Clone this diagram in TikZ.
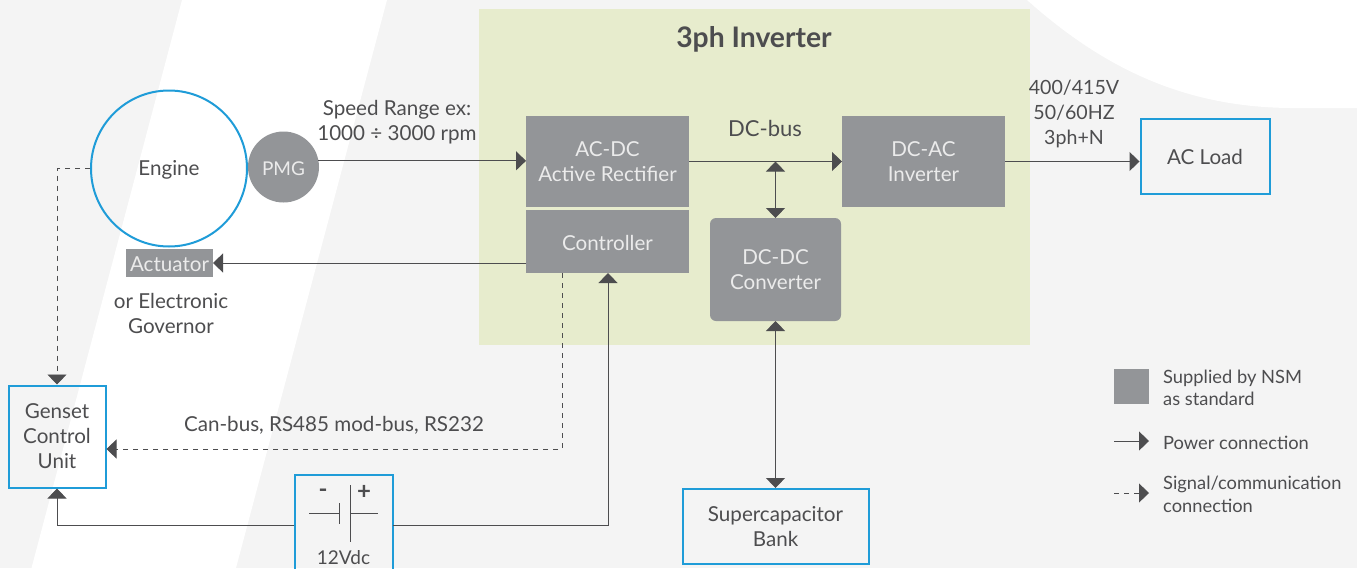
\documentclass[tikz,border=0pt]{standalone}
\usepackage{fontspec}
\setmainfont{Lato}
\usetikzlibrary{arrows.meta}
\definecolor{bggray}{HTML}{F4F4F4}
\definecolor{panelgreen}{HTML}{E7ECCD}
\definecolor{nsmgray}{HTML}{939598}
\definecolor{inkgray}{HTML}{4D4D4F}
\definecolor{boxblue}{HTML}{1F9CD8}
\def\boxfont{\fontsize{20.6}{25}\selectfont}
\tikzset{
	lifted/.style={execute at begin node={\rule{0pt}{25pt}}},
	liftone/.style={execute at begin node={\rule{0pt}{18pt}}},
	txt/.style={text=inkgray,align=center,font=\boxfont,inner sep=0pt},
	legendtxt/.style={text=inkgray,align=left,anchor=west,font=\fontsize{18.3}{22.5}\selectfont,inner sep=0pt},
	nsmbox/.style={fill=nsmgray,text=white!92!black,align=center,font=\boxfont,inner sep=0pt,outer sep=0pt},
	bluebox/.style={draw=boxblue,line width=2pt,text=inkgray,align=center,font=\boxfont,inner sep=0pt,outer sep=1pt},
	powerline/.style={draw=inkgray,line width=1pt,-{Triangle[length=10pt,width=19pt]}},
	powerboth/.style={draw=inkgray,line width=1pt,{Triangle[length=10pt,width=19pt]}-{Triangle[length=10pt,width=19pt]}},
	signalline/.style={powerline,line width=0.9pt,dash pattern=on 5pt off 5pt},
	battline/.style={draw=inkgray,line width=1pt}
}
\begin{document}
\begin{tikzpicture}[x=1pt,y=-1pt]
	%%%%% BACKGROUND %%%%%
	\useasboundingbox (0,0) rectangle (1357,568);
	\fill[bggray] (0,0) rectangle (1357,568);
	\fill[white] (182,0) -- (387,0) -- (236,568) -- (31.5,568) -- cycle;
	\fill[white] (1027,0) .. controls (1100,65) and (1180,107) .. (1290,108) -- (1357,108) -- (1357,0) -- cycle;
	\fill[panelgreen] (479,9) rectangle (1030,345);
	\node[txt,font=\fontsize{28.3}{30}\selectfont\bfseries] (title) at (754,39) {3ph Inverter};

	%%%%% BLOCKS %%%%%
	\node[liftone,circle,draw=boxblue,line width=2pt,minimum size=156pt,inner sep=0pt,outer sep=1pt,text=inkgray,font=\boxfont] (engine) at (169,168.5) {Engine};
	\node[liftone,circle,fill=nsmgray,minimum size=71pt,inner sep=0pt,outer sep=0pt,text=white!92!black,font=\fontsize{19}{25}\selectfont] (pmg) at (283.5,167) {PMG};
	\node[nsmbox,liftone,minimum width=87pt,minimum height=28pt] (actuator) at (169.5,263) {Actuator};
	\node[nsmbox,lifted,minimum width=163pt,minimum height=91pt] (acdc) at (607.5,161.5) {AC-DC\\Active Rectifier};
	\node[nsmbox,liftone,minimum width=163pt,minimum height=63pt] (controller) at (607.5,241.5) {Controller};
	\node[nsmbox,lifted,minimum width=163pt,minimum height=91pt] (dcac) at (923.5,161.5) {DC-AC\\Inverter};
	\node[nsmbox,lifted,rounded corners=6pt,minimum width=131pt,minimum height=103pt] (dcdc) at (775.5,269.5) {DC-DC\\Converter};
	\node[bluebox,liftone,minimum width=129pt,minimum height=75pt] (acload) at (1205,156) {AC Load};
	\node[bluebox,lifted,minimum width=97pt,minimum height=102pt] (genset) at (57,436.5) {Genset\\Control\\Unit};
	\node[bluebox,lifted,minimum width=186pt,minimum height=75pt] (supercap) at (775.5,526.5) {Supercapacitor\\Bank};
	\node[bluebox,minimum width=98pt,minimum height=112pt] (battery) at (343.5,531) {};

	%%%%% LABELS %%%%%
	\node[txt] (speed) at (397,122.5) {Speed Range ex:\\1000 ÷ 3000 rpm};
	\node[txt,font=\fontsize{22}{25}\selectfont] (dcbuslabel) at (765,128.5) {DC-bus};
	\node[txt,font=\fontsize{19.6}{25}\selectfont] (outlabel) at (1074,114) {400/415V\\50/60HZ\\3ph+N};
	\node[txt] (governor) at (171,313.5) {or Electronic\\Governor};
	\node[txt] (canbus) at (334,425) {Can-bus, RS485 mod-bus, RS232};
	\node[txt,font=\fontsize{19}{25}\selectfont] (vdc) at (343.5,558) {12Vdc};

	%%%%% BATTERY SYMBOL %%%%%
	\coordinate (negend) at (309,513);
	\coordinate (negplate) at (339,513);
	\coordinate (posplate) at (350,513);
	\coordinate (posend) at (378,513);
	\draw[battline] (negend) -- (negplate);
	\draw[battline] (posplate) -- (posend);
	\draw[battline] (339,503) -- (339,524);
	\draw[battline] (350,485) -- (350,542);
	\node[txt,font=\fontsize{24}{24}\selectfont\bfseries] (minus) at (323,493) {-};
	\node[txt,font=\fontsize{24}{24}\selectfont\bfseries] (plus) at (364,492) {+};

	%%%%% CONNECTORS %%%%%
	\coordinate (ctrlout) at (526,263);
	\coordinate (ctrlsig) at (562,273);
	\coordinate (ctrlin) at (608,273);
	\coordinate (batleft) at (294,525);
	\coordinate (batright) at (393,525);
	\coordinate (bus) at (775.5,161.5);
	\draw[powerline] (pmg.10) -- (pmg.10 -| acdc.west);
	\draw[powerline] (acdc.east) -- (dcac.west);
	\draw[powerline] (dcac.east) -- (dcac.east -| acload.west);
	\draw[powerline] (ctrlout) -- (actuator.east);
	\draw[powerboth] (bus) -- (dcdc.north);
	\draw[powerboth] (dcdc.south) -- (supercap.north);
	\draw[powerline] (batright) -| (ctrlin);
	\draw[powerline] (batleft) -| (genset.south);
	\draw[signalline] (ctrlsig) |- (genset.east |- 0,449);
	\draw[signalline] (engine.west) -| (genset.north);

	%%%%% LEGEND %%%%%
	\node[fill=nsmgray,minimum size=35pt,inner sep=0pt] (legendbox) at (1131.5,386.5) {};
	\node[legendtxt] (legendnsm) at (1163,388) {Supplied by NSM\\as standard};
	\coordinate (powerstart) at (1114,441);
	\coordinate (powerend) at (1149,441);
	\draw[powerline] (powerstart) -- (powerend);
	\node[legendtxt] (legendpower) at (1163,442.5) {Power connection};
	\coordinate (signalstart) at (1114,493);
	\coordinate (signalend) at (1149,493);
	\draw[signalline] (signalstart) -- (signalend);
	\node[legendtxt] (legendsignal) at (1163,494.5) {Signal/communication\\connection};
\end{tikzpicture}
\end{document}
